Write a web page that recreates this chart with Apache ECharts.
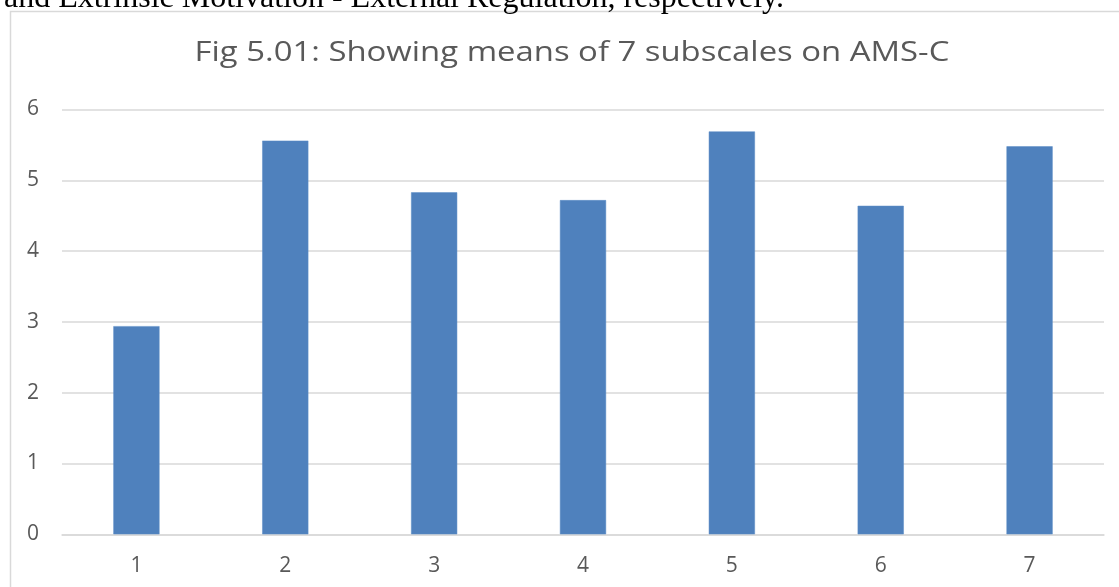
<!DOCTYPE html>
<html>
<head>
<meta charset="utf-8">
<script src="https://cdn.jsdelivr.net/npm/echarts@6/dist/echarts.min.js"></script>
<style>
html,body{margin:0;padding:0;background:#fff;}
#chart{width:1119px;height:587px;}
</style>
</head>
<body>
<div id="chart"></div>
<script>
var categories = ['1', '2', '3', '4', '5', '6', '7'];
var meanValues = [2.94, 5.56, 4.83, 4.72, 5.69, 4.64, 5.48];
var yTicks = [0, 1, 2, 3, 4, 5, 6];
var chartTitle = 'Fig 5.01: Showing means of 7 subscales on AMS-C';
var topText = 'and Extrinsic Motivation - External Regulation, respectively.';

var chart = echarts.init(document.getElementById('chart'), null, {renderer: 'canvas'});
chart.setOption({
  animation: false,
  backgroundColor: '#ffffff',
  graphic: [
    {
      type: 'rect',
      shape: {x: 10.5, y: 11.5, width: 1200, height: 700},
      style: {fill: 'none', stroke: '#d9d9d9', lineWidth: 1.5},
      silent: true, z: -1
    },
    {
      type: 'text',
      x: 4, y: -17,
      style: {
        text: topText,
        font: '32px "Liberation Serif"',
        fill: '#000000',
        textAlign: 'left',
        textVerticalAlign: 'top'
      },
      silent: true
    },
    {
      type: 'text',
      x: 572, y: 40,
      scaleX: 1.24,
      style: {
        text: chartTitle,
        font: '26.5px "Open Sans"',
        fill: '#595959',
        textAlign: 'center',
        textVerticalAlign: 'top'
      },
      silent: true
    }
  ],
  grid: {left: 62, right: 15, top: 109.5, bottom: 52.7, containLabel: false},
  xAxis: {
    type: 'category',
    data: categories,
    axisLine: {lineStyle: {color: '#d9d9d9', width: 1.5}},
    axisTick: {show: false},
    axisLabel: {color: '#595959', fontFamily: 'Open Sans', fontSize: 21, margin: 21}
  },
  yAxis: {
    type: 'value',
    min: yTicks[0],
    max: yTicks[yTicks.length - 1],
    interval: 1,
    axisLine: {show: false},
    axisTick: {show: false},
    splitLine: {lineStyle: {color: '#d9d9d9', width: 1.5}},
    axisLabel: {color: '#595959', fontFamily: 'Open Sans', fontSize: 21, margin: 23}
  },
  series: [{
    type: 'bar',
    data: meanValues,
    barWidth: '31%',
    itemStyle: {color: '#4f81bd', borderColor: '#5b8cc6', borderWidth: 0.5}
  }]
});
</script>
</body>
</html>
